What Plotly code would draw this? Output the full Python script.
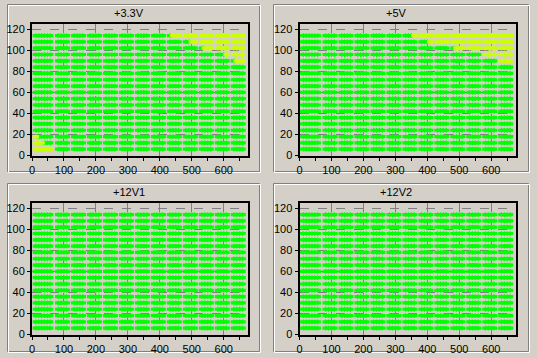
import plotly.graph_objects as go

# ---- data ----
TITLES = ["+3.3V", "+5V", "+12V1", "+12V2"]
X_LOAD = [12, 21, 30, 39, 48, 57,
          82, 91, 100, 109, 132, 141, 150, 159, 182, 191, 200, 209,
          232, 241, 250, 259, 282, 291, 300, 309, 332, 341, 350, 359,
          382, 391, 400, 409, 432, 441, 450, 459, 482, 491, 500, 509,
          532, 541, 550, 559, 582, 591, 600, 609, 632, 641, 650, 659]
Y_ROWS = [6, 12, 18, 24, 30, 36, 42, 48, 54, 60, 66, 72, 78, 84, 90, 96, 102, 108, 114]
# yellow (out of tolerance) points: x >= threshold on high rows, x <= limit on low rows
YELLOW_FROM = [
    {114: 441, 108: 500, 102: 541, 96: 609, 90: 641},
    {114: 359, 108: 409, 102: 491, 96: 582, 90: 632},
    {},
    {},
]
YELLOW_UPTO = [
    {6: 57, 12: 30, 18: 12},
    {},
    {},
    {},
]
X_TICKS = [0, 100, 200, 300, 400, 500, 600]
Y_TICKS = [0, 20, 40, 60, 80, 100, 120]

GREEN = "#00FF00"
YELLOW = "#CCFF00"
BG = "#D4D0C8"
W, H = 537, 358

# pixel layout
PLOT_X = [(32, 248), (299.5, 515.5)]
PLOT_Y = [(24, 155.5), (203, 334.5)]
BOX_X = [(7, 260), (273, 529)]
BOX_Y = [(4, 172), (183, 352)]
TITLE_X = [129, 396]
TITLE_Y = [12.7, 191.5]

def fx(p):
    return p / W

def fy(p):
    return 1 - p / H

fig = go.Figure()
shapes = []
annotations = []
for i, title in enumerate(TITLES):
    col, row = i % 2, i // 2
    ax = "" if i == 0 else str(i + 1)
    gx, gy, yx = [], [], []
    yy = []
    for yv in Y_ROWS:
        for xv in X_LOAD:
            hi = YELLOW_FROM[i].get(yv)
            lo = YELLOW_UPTO[i].get(yv)
            is_y = (hi is not None and xv >= hi) or (lo is not None and xv <= lo)
            if is_y:
                yx.append(xv); yy.append(yv)
            else:
                gx.append(xv); gy.append(yv)
    for xs, ys, c in ((gx, gy, GREEN), (yx, yy, YELLOW)):
        # plus-shaped marker: a thick horizontal arm and a thin vertical arm
        fig.add_trace(go.Scatter(
            x=xs, y=ys, mode="markers", xaxis="x" + ax, yaxis="y" + ax,
            marker=dict(symbol="line-ew", size=4.6, color=c,
                        line=dict(width=3.2, color=c)),
            showlegend=False, hoverinfo="skip"))
        fig.add_trace(go.Scatter(
            x=xs, y=ys, mode="markers", xaxis="x" + ax, yaxis="y" + ax,
            marker=dict(symbol="line-ns", size=3.4, color=c,
                        line=dict(width=1.2, color=c)),
            showlegend=False, hoverinfo="skip"))
    common = dict(showline=True, linewidth=2, linecolor="black", mirror=True,
                  ticks="outside", ticklen=3, tickcolor="black", tickwidth=1,
                  showgrid=True, gridcolor="#808080", griddash="dash", gridwidth=1,
                  zeroline=False, automargin=False,
                  tickfont=dict(size=11, color="black",
                                family="Arial, Liberation Sans"))
    fig.update_layout(**{
        "xaxis" + ax: dict(domain=[fx(PLOT_X[col][0]), fx(PLOT_X[col][1])],
                           range=[0, 676], anchor="y" + ax, tickmode="array",
                           tickvals=X_TICKS,
                           minor=dict(dtick=50, tick0=0, ticks="outside", ticklen=3,
                                      tickcolor="black", showgrid=False),
                           **common),
        "yaxis" + ax: dict(domain=[fy(PLOT_Y[row][1]), fy(PLOT_Y[row][0])],
                           range=[0, 125], anchor="x" + ax, tickmode="array",
                           tickvals=Y_TICKS, **common),
    })
    bx0, bx1 = BOX_X[col]
    by0, by1 = BOX_Y[row]
    shapes.append(dict(type="rect", xref="paper", yref="paper",
                       x0=fx(bx0 + 0.5), x1=fx(bx1 - 0.5), y0=fy(by0 + 0.5), y1=fy(by1 - 0.5),
                       line=dict(color="#808080", width=1), layer="below"))
    shapes.append(dict(type="rect", xref="paper", yref="paper",
                       x0=fx(bx0 + 1.5), x1=fx(bx1 + 0.5), y0=fy(by0 + 1.5), y1=fy(by1 + 0.5),
                       line=dict(color="#FFFFFF", width=1), layer="below"))
    annotations.append(dict(text=title, xref="paper", yref="paper",
                            x=fx(TITLE_X[col]), y=fy(TITLE_Y[row]),
                            xanchor="center", yanchor="middle", showarrow=False,
                            font=dict(size=11, color="black",
                                      family="Arial, Liberation Sans")))

fig.update_layout(width=W, height=H, margin=dict(l=0, r=0, t=0, b=0),
                  paper_bgcolor=BG, plot_bgcolor=BG,
                  shapes=shapes, annotations=annotations)
fig.write_html("out.html", config={"displayModeBar": False},
               post_script="document.body.style.margin='0';"
                           "document.body.style.overflow='hidden';"
                           "document.body.style.background='#D4D0C8';")
